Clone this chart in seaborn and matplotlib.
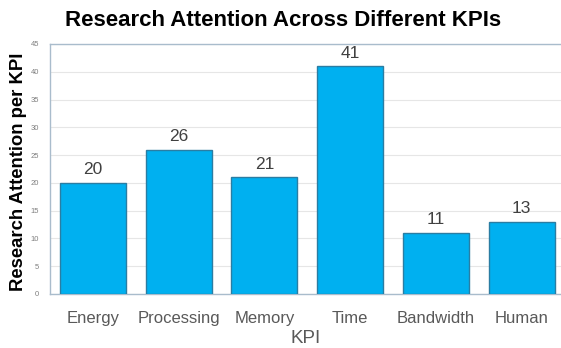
import matplotlib
matplotlib.use("Agg")
import matplotlib.pyplot as plt
import seaborn as sns
import pandas as pd

categories = ["Energy", "Processing", "Memory", "Time", "Bandwidth", "Human"]
values = [20, 26, 21, 41, 11, 13]
yticks = [0, 5, 10, 15, 20, 25, 30, 35, 40, 45]

sns.set_theme(style="white")
plt.rcParams['font.family'] = ['Liberation Sans', 'DejaVu Sans']

df = pd.DataFrame({"KPI": categories, "Attention": values})

fig = plt.figure(figsize=(5.61, 3.48), dpi=100)
ax = fig.add_axes([50/561, 1-294/348, 1-50/561, 250/348])
sns.barplot(data=df, x="KPI", y="Attention", ax=ax, color="#00B0F0",
            saturation=1, width=0.77, edgecolor="#2A7DA3", linewidth=1.0, zorder=3)
ax.set_xlim(-0.5, 5.46)
ax.set_ylim(0, 45)
ax.set_yticks(yticks)
ax.set_yticklabels([str(t) for t in yticks], fontsize=5.5, color="#7F7F7F")
ax.tick_params(axis='x', labelsize=12, labelcolor="#595959", pad=12, length=0)
ax.tick_params(axis='y', length=0, pad=8)
ax.yaxis.grid(True, color="#E6E6E6", linewidth=0.8, zorder=0)
for s in ["left", "top", "bottom"]:
    ax.spines[s].set_color("#A9BCCC")
    ax.spines[s].set_linewidth(1.0)
ax.spines["right"].set_visible(False)

for c in ax.containers:
    ax.bar_label(c, labels=[str(v) for v in values], padding=4, fontsize=12.5, color="#404040")

ax.set_xlabel("KPI", fontsize=13.5, color="#595959", labelpad=3)
ax.set_ylabel("Research Attention per KPI", fontsize=13.3, fontweight="bold", color="black")
ax.yaxis.set_label_coords(-0.045, 0.49)
fig.text(0.5*(67+500)/561, 1-20/348, "Research Attention Across Different KPIs",
         ha="center", va="center", fontsize=16, fontweight="bold", color="black")

fig.savefig("out.png", dpi=100)
